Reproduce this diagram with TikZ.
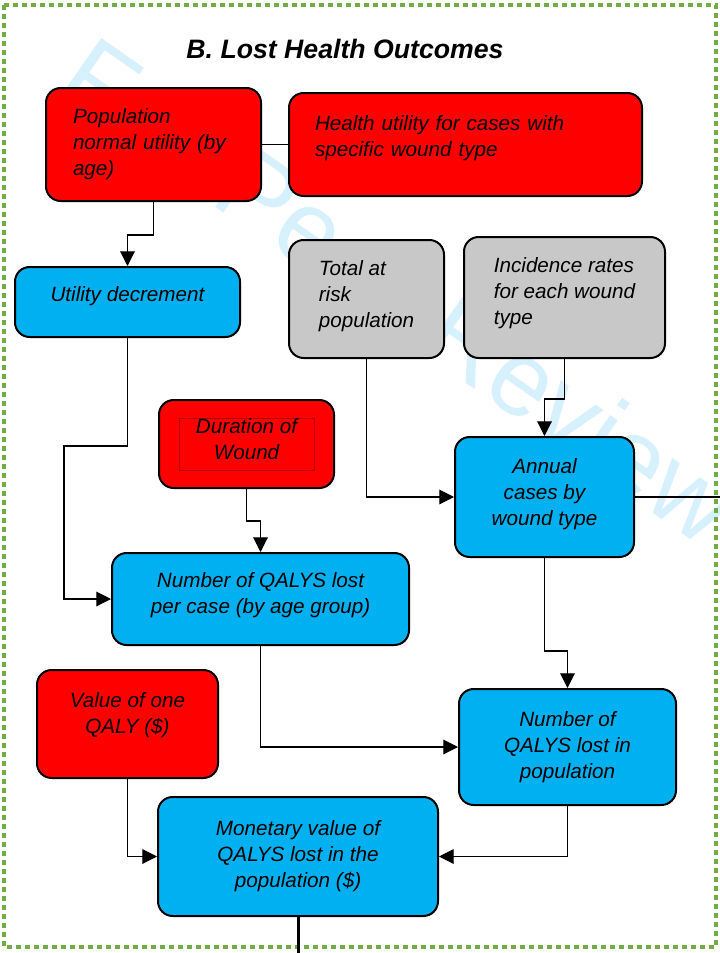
\documentclass[tikz,border=0pt]{standalone}
\usepackage{fontspec}
\setmainfont{Liberation Sans}
\usepackage{xcolor}
\usetikzlibrary{arrows.meta, calc}
\definecolor{boxred}{RGB}{255, 0, 0}
\definecolor{boxblue}{RGB}{0, 176, 240}
\definecolor{boxgray}{RGB}{200, 200, 200}
\definecolor{frame}{RGB}{112, 173, 71}
\definecolor{mark}{RGB}{214, 240, 252}

\begin{document}
\begin{tikzpicture}[
        x=0.75pt, y=-0.75pt,
        box/.style={rectangle, draw, rounded corners=11pt, line width=1.5pt, align=center,
            font=\fontsize{15.5}{19.5}\selectfont\itshape},
        lift/.style={text depth=#1},
        arrow/.style={-{Triangle[length=11pt, width=11pt]}, line width=0.8pt},
        link/.style={line width=0.8pt}
    ]
        \useasboundingbox (0,0) rectangle (720,953);
        \node[rotate=-35, text=mark, font=\fontsize{80}{80}\selectfont] (wm) at (400,290) {For Peer Review};
        \draw[frame, line width=3pt, dash pattern=on 3.75pt off 3pt] (4,5) rectangle (716,947);

        \node[font=\fontsize{20}{24}\selectfont\bfseries\itshape] (title) at (345,49) {B. Lost Health Outcomes};

        \node[box, fill=boxred, align=left, text width=120.75pt, minimum width=161.25pt, minimum height=84.75pt] (pop) at (153.5,144.5) {Population\\normal utility (by\\age)};
        \node[box, fill=boxred, align=left, text width=225.75pt, minimum width=264.75pt, minimum height=77.25pt, lift=32.5pt] (hutil) at (465.5,144.5) {Health utility for cases with\\specific wound type};
        \node[box, fill=boxblue, minimum width=168.75pt, minimum height=52.5pt, lift=12.3pt] (util) at (127.5,302) {Utility decrement};
        \node[box, fill=boxgray, align=left, minimum width=116.25pt, minimum height=88.5pt, lift=7pt] (total) at (366.5,299) {Total at\\risk\\population};
        \node[box, fill=boxgray, align=left, minimum width=150.75pt, minimum height=90.75pt, lift=9.3pt] (inc) at (564.5,297.5) {Incidence rates\\for each wound\\type};
        \node[box, fill=boxred, minimum width=131.25pt, minimum height=66pt, lift=7.5pt,
            path picture={\draw[red!70!black, line width=0.4pt, sharp corners]
                ([shift={(-67.5,-26)}]path picture bounding box.center) rectangle
                ([shift={(67.5,26)}]path picture bounding box.center);}] (dur) at (246.5,444) {Duration of\\Wound};
        \node[box, fill=boxblue, minimum width=134.25pt, minimum height=90pt, lift=7.8pt] (annual) at (544.5,497) {Annual\\cases by\\wound type};
        \node[box, fill=boxblue, minimum width=222.75pt, minimum height=69pt, lift=9.3pt] (qcase) at (260.5,599) {Number of QALYS lost\\per case (by age group)};
        \node[box, fill=boxred, minimum width=135.75pt, minimum height=81pt, lift=16.8pt] (qaly) at (127.5,724) {Value of one\\QALY (\$)};
        \node[box, fill=boxblue, minimum width=162.75pt, minimum height=87pt] (qpop) at (567.5,747) {Number of\\QALYS lost in\\population};
        \node[box, fill=boxblue, minimum width=210pt, minimum height=89.25pt] (money) at (298,856.5) {Monetary value of\\QALYS lost in the\\population (\$)};

        \coordinate (rightout) at (720,497);
        \coordinate (downout) at (298,953);

        \draw[link] (pop.east) -- (hutil.west);
        \draw[arrow] (pop.south) -- ++(0,33) -| (util.north);
        \draw[arrow] (inc.south) -- ++(0,40) -| (annual.north);
        \draw[arrow] (total.south) |- (annual.west);
        \draw[link] (annual.east) -- (rightout);
        \draw[arrow] (util.south) |- (64,446) |- (qcase.west);
        \draw[arrow] (dur.south) -- ++(0,32) -| (qcase.north);
        \draw[arrow] (annual.south) -- ++(0,93) -| (qpop.north);
        \draw[arrow] (qcase.south) |- (qpop.west);
        \draw[arrow] (qaly.south) |- (money.west);
        \draw[arrow] (qpop.south) |- (money.east);
        \draw[line width=2.25pt] (money.south) -- (downout);
    \end{tikzpicture}
\end{document}
